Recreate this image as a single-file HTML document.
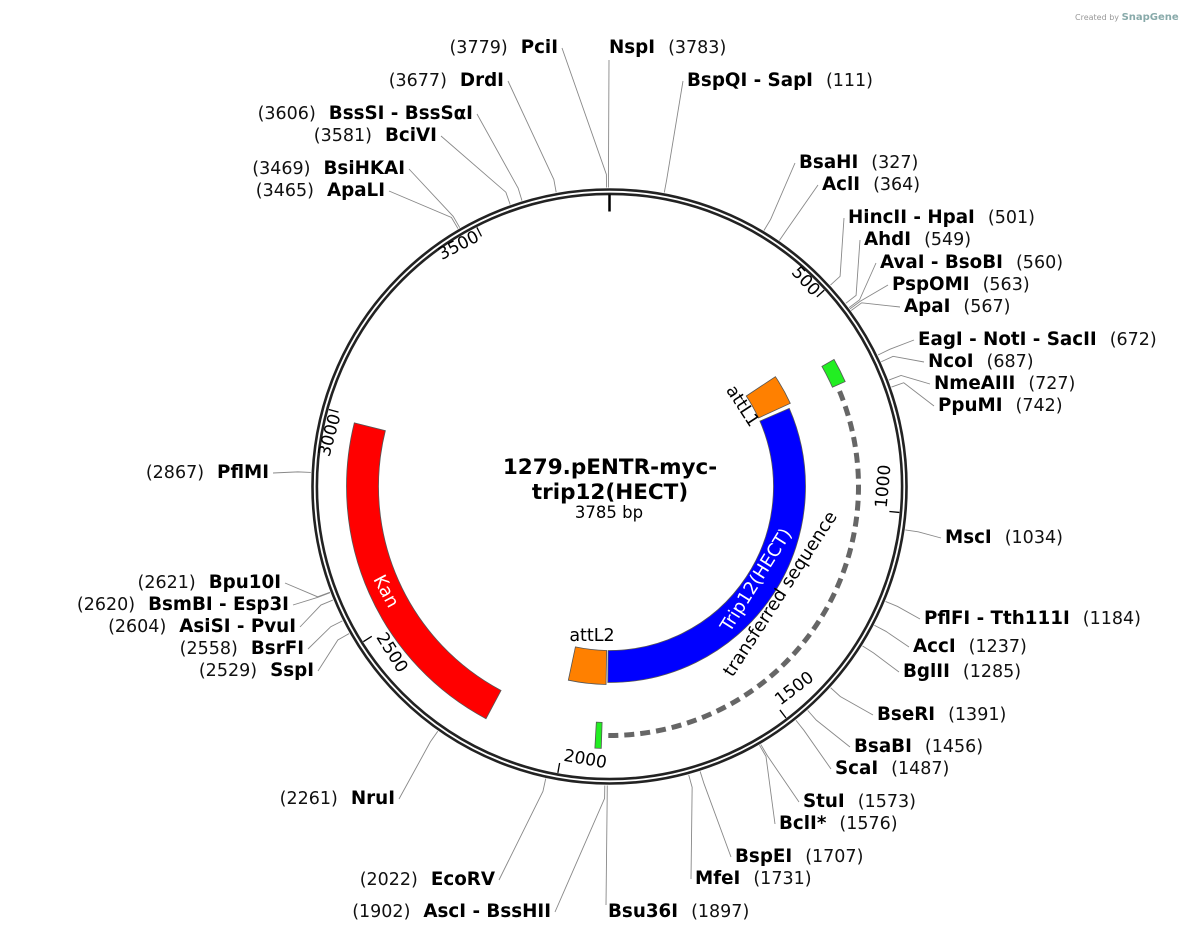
<!DOCTYPE html>
<html><head><meta charset="utf-8"><style>
html,body{margin:0;padding:0;background:#fff;}
svg{display:block;font-family:"DejaVu Sans","Liberation Sans",sans-serif;}
.n{font-weight:bold;font-size:18.3px;fill:#000}
.p{font-size:17.5px;fill:#111}
</style></head><body>
<svg id="s" width="1182" height="942" viewBox="0 0 1182 942" xmlns="http://www.w3.org/2000/svg">
<text x="1075" y="20" font-size="8" fill="#999">Created by <tspan font-size="10" font-weight="bold" fill="#8aa">SnapGene</tspan></text>
<g id="geo"></g>
<g id="labels">
<text x="558" y="53" text-anchor="end"><tspan class="p">(3779)</tspan><tspan class="n" dx="13">PciI</tspan></text>
<text x="504" y="86" text-anchor="end"><tspan class="p">(3677)</tspan><tspan class="n" dx="13">DrdI</tspan></text>
<text x="473" y="119" text-anchor="end"><tspan class="p">(3606)</tspan><tspan class="n" dx="13">BssSI - BssSαI</tspan></text>
<text x="437" y="141" text-anchor="end"><tspan class="p">(3581)</tspan><tspan class="n" dx="13">BciVI</tspan></text>
<text x="405" y="174" text-anchor="end"><tspan class="p">(3469)</tspan><tspan class="n" dx="13">BsiHKAI</tspan></text>
<text x="385" y="196" text-anchor="end"><tspan class="p">(3465)</tspan><tspan class="n" dx="13">ApaLI</tspan></text>
<text x="269" y="478" text-anchor="end"><tspan class="p">(2867)</tspan><tspan class="n" dx="13">PflMI</tspan></text>
<text x="281" y="588" text-anchor="end"><tspan class="p">(2621)</tspan><tspan class="n" dx="13">Bpu10I</tspan></text>
<text x="289" y="610" text-anchor="end"><tspan class="p">(2620)</tspan><tspan class="n" dx="13">BsmBI - Esp3I</tspan></text>
<text x="296" y="632" text-anchor="end"><tspan class="p">(2604)</tspan><tspan class="n" dx="13">AsiSI - PvuI</tspan></text>
<text x="304" y="654" text-anchor="end"><tspan class="p">(2558)</tspan><tspan class="n" dx="13">BsrFI</tspan></text>
<text x="314" y="676" text-anchor="end"><tspan class="p">(2529)</tspan><tspan class="n" dx="13">SspI</tspan></text>
<text x="395" y="804" text-anchor="end"><tspan class="p">(2261)</tspan><tspan class="n" dx="13">NruI</tspan></text>
<text x="495" y="885" text-anchor="end"><tspan class="p">(2022)</tspan><tspan class="n" dx="13">EcoRV</tspan></text>
<text x="551" y="917" text-anchor="end"><tspan class="p">(1902)</tspan><tspan class="n" dx="13">AscI - BssHII</tspan></text>
<text x="609" y="53"><tspan class="n">NspI</tspan><tspan class="p" dx="13">(3783)</tspan></text>
<text x="687" y="86"><tspan class="n">BspQI - SapI</tspan><tspan class="p" dx="13">(111)</tspan></text>
<text x="799" y="168"><tspan class="n">BsaHI</tspan><tspan class="p" dx="13">(327)</tspan></text>
<text x="822" y="190"><tspan class="n">AclI</tspan><tspan class="p" dx="13">(364)</tspan></text>
<text x="848" y="223"><tspan class="n">HincII - HpaI</tspan><tspan class="p" dx="13">(501)</tspan></text>
<text x="864" y="245"><tspan class="n">AhdI</tspan><tspan class="p" dx="13">(549)</tspan></text>
<text x="880" y="268"><tspan class="n">AvaI - BsoBI</tspan><tspan class="p" dx="13">(560)</tspan></text>
<text x="892" y="290"><tspan class="n">PspOMI</tspan><tspan class="p" dx="13">(563)</tspan></text>
<text x="904" y="312"><tspan class="n">ApaI</tspan><tspan class="p" dx="13">(567)</tspan></text>
<text x="918" y="345"><tspan class="n">EagI - NotI - SacII</tspan><tspan class="p" dx="13">(672)</tspan></text>
<text x="928" y="367"><tspan class="n">NcoI</tspan><tspan class="p" dx="13">(687)</tspan></text>
<text x="934" y="389"><tspan class="n">NmeAIII</tspan><tspan class="p" dx="13">(727)</tspan></text>
<text x="938" y="411"><tspan class="n">PpuMI</tspan><tspan class="p" dx="13">(742)</tspan></text>
<text x="945" y="543"><tspan class="n">MscI</tspan><tspan class="p" dx="13">(1034)</tspan></text>
<text x="924" y="624"><tspan class="n">PflFI - Tth111I</tspan><tspan class="p" dx="13">(1184)</tspan></text>
<text x="913" y="652"><tspan class="n">AccI</tspan><tspan class="p" dx="13">(1237)</tspan></text>
<text x="903" y="677"><tspan class="n">BglII</tspan><tspan class="p" dx="13">(1285)</tspan></text>
<text x="877" y="720"><tspan class="n">BseRI</tspan><tspan class="p" dx="13">(1391)</tspan></text>
<text x="854" y="752"><tspan class="n">BsaBI</tspan><tspan class="p" dx="13">(1456)</tspan></text>
<text x="835" y="774"><tspan class="n">ScaI</tspan><tspan class="p" dx="13">(1487)</tspan></text>
<text x="803" y="807"><tspan class="n">StuI</tspan><tspan class="p" dx="13">(1573)</tspan></text>
<text x="779" y="829"><tspan class="n">BclI*</tspan><tspan class="p" dx="13">(1576)</tspan></text>
<text x="735" y="862"><tspan class="n">BspEI</tspan><tspan class="p" dx="13">(1707)</tspan></text>
<text x="695" y="884"><tspan class="n">MfeI</tspan><tspan class="p" dx="13">(1731)</tspan></text>
<text x="608" y="917"><tspan class="n">Bsu36I</tspan><tspan class="p" dx="13">(1897)</tspan></text>
</g>
<text x="610" y="474" text-anchor="middle" font-weight="bold" font-size="21.5">1279.pENTR-myc-</text>
<text x="610" y="499" text-anchor="middle" font-weight="bold" font-size="21.5">trip12(HECT)</text>
<text x="609" y="518" text-anchor="middle" font-size="16.5">3785 bp</text>
<text x="0" y="0" font-size="17.5" text-anchor="middle" transform="translate(738,409) rotate(57)">attL1</text>
<text x="592" y="641" font-size="17.5" text-anchor="middle">attL2</text>
<text x="0" y="0" font-size="18" fill="#fff" text-anchor="middle" transform="translate(761,583) rotate(-58)">Trip12(HECT)</text>
<text x="0" y="0" font-size="18" text-anchor="middle" transform="translate(785,597) rotate(-57)">transferred sequence</text>
<text x="0" y="0" font-size="18" fill="#fff" text-anchor="middle" transform="translate(381,594) rotate(62)">Kan</text>
<g id="ticks" font-size="17"></g>
</svg>
<script>
var cx=609.5,cy=486.5,NS="http://www.w3.org/2000/svg";
var geo=document.getElementById('geo');
function rad(a){return a*Math.PI/180;}
function pt(a,r){return [cx+r*Math.sin(rad(a)),cy-r*Math.cos(rad(a))];}
function el(t,at,p){var e=document.createElementNS(NS,t);for(var k in at)e.setAttribute(k,at[k]);(p||geo).appendChild(e);return e;}
function band(a1,a2,r1,r2,fill){var A=pt(a1,r2),B=pt(a2,r2),C=pt(a2,r1),D=pt(a1,r1);var lg=(a2-a1)>180?1:0;
el('path',{d:'M'+A+' A'+r2+' '+r2+' 0 '+lg+' 1 '+B+' L'+C+' A'+r1+' '+r1+' 0 '+lg+' 0 '+D+'Z',fill:fill,stroke:'#555','stroke-width':0.8});}
function ang(bp){return bp/3785*360;}
var L=[[3779,562,48],[3677,508,81],[3606,477,114],[3581,441,136],[3469,409,169],[3465,389,191],[2867,273,473],[2621,285,583],[2620,293,605],[2604,300,627],[2558,308,649],[2529,318,671],[2261,399,799],[2022,499,880],[1902,555,912],
[3783,609,60],[111,683,81],[327,795,163],[364,818,185],[501,844,218],[549,860,240],[560,876,263],[563,888,285],[567,900,307],[672,914,340],[687,924,362],[727,930,384],[742,934,406],[1034,941,538],[1184,920,619],[1237,909,647],[1285,899,672],[1391,873,715],[1456,850,747],[1487,831,769],[1573,799,802],[1576,775,824],[1707,731,857],[1731,691,879],[1897,606,905]];
L.forEach(function(l){var a=ang(l[0]);var p1=pt(a,299),p2=pt(a,312);
el('polyline',{points:p1+' '+p2+' '+l[1]+','+l[2],fill:'none',stroke:'#888','stroke-width':0.9});});
el('circle',{cx:cx,cy:cy,r:297,fill:'none',stroke:'#222','stroke-width':2.6});
el('circle',{cx:cx,cy:cy,r:292.6,fill:'none',stroke:'#222','stroke-width':2.6});
el('line',{x1:cx,y1:cy-292,x2:cx,y2:cy-275,stroke:'#000','stroke-width':2.5});
band(208,284,231,263,'#ff0000');
band(66.5,180.5,164,196,'#0000ff');
band(56.5,65.3,164,199,'#ff8000');
band(181,192,164,198,'#ff8000');
var d1=pt(67.5,249),d2=pt(181,249);
el('path',{d:'M'+d1+' A249 249 0 0 1 '+d2,fill:'none',stroke:'#666','stroke-width':5,'stroke-dasharray':'10 6'});
band(60.5,66,244,258,'#22ee22');
band(181.8,183.2,236,262,'#22ee22');
var tg=document.getElementById('ticks');
[['500',500],['1000',1000],['1500',1500],['2000',2000],['2500',2500],['3000',3000],['3500',3500]].forEach(function(t){
var a=ang(t[1]);var p1=pt(a,291),p2=pt(a,281);el('line',{x1:p1[0],y1:p1[1],x2:p2[0],y2:p2[1],stroke:'#000','stroke-width':1.3});
var top=(a<90||a>270);var rot=top?a:a-180;var p=pt(a-0.6,278);
var e=el('text',{transform:'translate('+p+') rotate('+rot+')','text-anchor':top?'end':'start',y:0},tg);e.textContent=t[0];
});
</script>
</body></html>
